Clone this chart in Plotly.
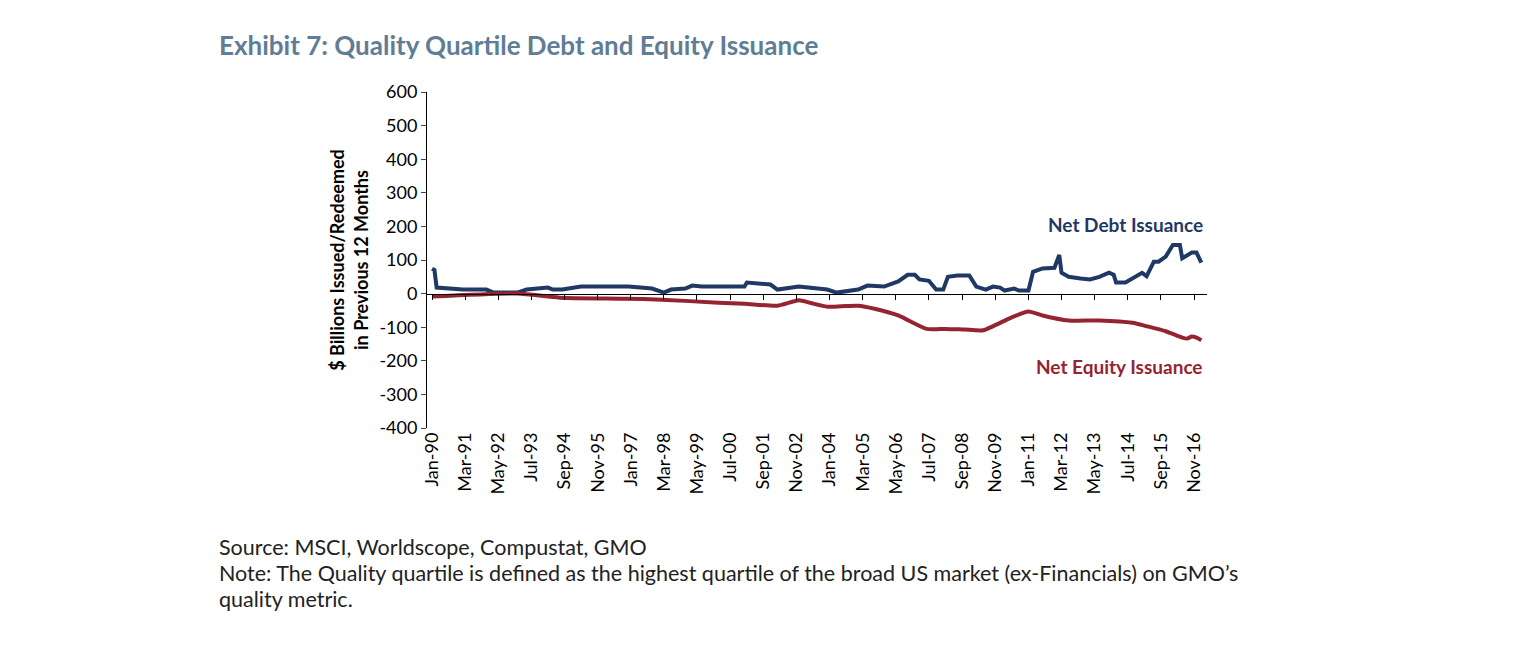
import pandas as pd
import plotly.graph_objects as go

# month offsets from Jan-1990
debt_m = [0,1,2,10,13,23,26,36,40,49,51,55,63,74,83,93,98,101,107,110,114,121,132,133,143,146,155,159,
          167,171,180,184,191,197,201,204,206,210,213,216,218,222,227,230,234,237,240,242,246,248,252,254,
          258,263,265,266,269,274,278,282,286,288,289,293,297,300,302,305,307,310,313,316,317,321,323,325]
debt_v = [74,70,18,15,12,12,3,3,12,18,12,12,21,21,21,15,3,12,15,24,21,21,21,33,27,12,21,18,
          12,3,12,24,21,36,56,56,42,38,12,12,50,54,54,21,12,21,18,9,15,9,9,65,
          75,77,115,62,50,45,42,50,62,56,33,33,50,62,52,95,95,110,145,145,105,122,122,92]
eq_m = [0,36,54,82,97,121,132,146,155,160,167,175,180,187,197,209,217,225,233,240,246,252,258,
        269,282,296,302,310,317,319,321,323,325]
eq_v = [-9,0,-12,-15,-18,-27,-30,-36,-20,-28,-39,-37,-36,-45,-65,-105,-105,-107,-109,-87,-68,-53,-65,
        -80,-80,-87,-97,-112,-131,-134,-128,-131,-139]
y_ticks = [600,500,400,300,200,100,0,-100,-200,-300,-400]
tick_labels = ["Jan-90","Mar-91","May-92","Jul-93","Sep-94","Nov-95","Jan-97","Mar-98","May-99","Jul-00",
               "Sep-01","Nov-02","Jan-04","Mar-05","May-06","Jul-07","Sep-08","Nov-09","Jan-11","Mar-12",
               "May-13","Jul-14","Sep-15","Nov-16"]

base = pd.Timestamp("1990-01-01")
def d(m): return base + pd.DateOffset(months=int(m))
debt_x = [d(m) for m in debt_m]
eq_x = [d(m) for m in eq_m]
tick_x = [d(14*i) for i in range(len(tick_labels))]

font = "Lato"
L, R, T, B = 419, 337, 84, 227
fig = go.Figure()
fig.add_trace(go.Scatter(x=debt_x, y=debt_v, mode="lines", line=dict(color="#1f3864", width=4)))
fig.add_trace(go.Scatter(x=eq_x, y=eq_v, mode="lines", line=dict(color="#952432", width=4, shape="spline", smoothing=0.6),
                         xaxis="x2"))
rng = ["1989-10-28", "2017-04-15"]
fig.update_layout(
    width=1536, height=647, showlegend=False, plot_bgcolor="white", paper_bgcolor="white",
    margin=dict(l=L, r=R, t=T, b=B), font=dict(family=font, size=18, color="black"),
    xaxis=dict(type="date", range=rng, tickvals=tick_x, ticktext=tick_labels, tickangle=-90,
               showgrid=False, showline=False, ticks="", zeroline=False, tickfont=dict(size=18)),
    xaxis2=dict(type="date", range=rng, overlaying="x", anchor="free", position=0.399,
                tickvals=tick_x, showticklabels=False, ticks="outside", ticklen=5, tickcolor="black",
                showline=True, linecolor="black", showgrid=False),
    yaxis=dict(range=[-400, 600], tickvals=y_ticks, ticktext=[str(v) for v in y_ticks],
               showgrid=False, showline=True, linecolor="black",
               ticks="outside", ticklen=5, zeroline=False, tickfont=dict(size=18),
               title=dict(text="<b>$ Billions Issued/Redeemed<br>in Previous 12 Months</b>", font=dict(size=18), standoff=6)),
)
ann = [
    dict(x=217, y=45, text="<b>Exhibit 7: Quality Quartile Debt and Equity Issuance</b>", color="#5f7d95", size=26, anchor="left"),
    dict(x=1205, y=224, text="<b>Net Debt Issuance</b>", color="#1f3864", size=19, anchor="right"),
    dict(x=1205, y=366, text="<b>Net Equity Issuance</b>", color="#952432", size=19, anchor="right"),
    dict(x=217, y=547, text="Source: MSCI, Worldscope, Compustat, GMO", color="#222", size=21.5, anchor="left"),
    dict(x=217, y=573, text="Note: The Quality quartile is defined as the highest quartile of the broad US market (ex-Financials) on GMO’s", color="#222", size=21.5, anchor="left"),
    dict(x=217, y=599, text="quality metric.", color="#222", size=21.5, anchor="left"),
]
W, H = 1536 - L - R, 647 - T - B
for a in ann:
    px, py = a["x"] - 8, a["y"] - 8
    fig.add_annotation(x=(px - L)/W, y=(647 - B - py)/H, xref="paper", yref="paper", text=a["text"],
                       showarrow=False, xanchor=a["anchor"], yanchor="middle",
                       font=dict(color=a["color"], size=a["size"], family=font))
fig.write_html("out.html")
